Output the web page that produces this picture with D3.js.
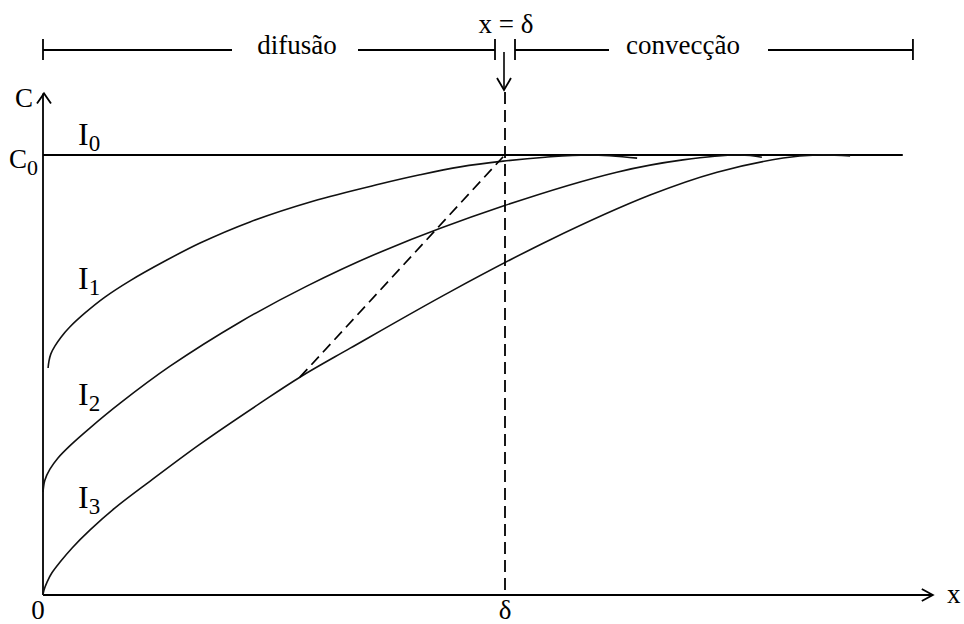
<!DOCTYPE html>
<html>
<head>
<meta charset="utf-8">
<script src="https://cdn.jsdelivr.net/npm/d3@7"></script>
<style>
  html, body { margin: 0; padding: 0; background: #fff; }
  svg { display: block; }
  text { font-family: "Liberation Serif", "Times New Roman", serif; fill: #000; }
</style>
</head>
<body>
<svg id="chart" width="964" height="624"></svg>
<script>
// Concentration profiles C(x) near the electrode for increasing current (I1 < I2 < I3).
// x is measured in units of the diffusion-layer thickness δ, C in units of C0.
const delta = 1;
const c0 = 1;
const xMax = 1.926;      // end of the x axis
const cMax = 1.14;       // top of the C axis
const c0LineEnd = 1.861; // where the bulk-concentration line stops
const bracketEnd = 1.883;

const seriesI1 = [
  [0.011, 0.516], [0.013, 0.532], [0.017, 0.548], [0.026, 0.566], [0.039, 0.586],
  [0.058, 0.609], [0.091, 0.641], [0.134, 0.677], [0.188, 0.714], [0.264, 0.759],
  [0.340, 0.800], [0.448, 0.848], [0.584, 0.895], [0.729, 0.934], [0.816, 0.955],
  [0.903, 0.973], [0.996, 0.986], [1.087, 0.995], [1.184, 1.000], [1.286, 0.993]
];
const seriesI2 = [
  [0.000, 0.234], [0.004, 0.261], [0.015, 0.286], [0.032, 0.311], [0.058, 0.339],
  [0.102, 0.380], [0.167, 0.436], [0.275, 0.520], [0.426, 0.620], [0.571, 0.702],
  [0.736, 0.782], [0.996, 0.884], [1.242, 0.961], [1.385, 0.989], [1.509, 1.000],
  [1.556, 0.995]
];
const seriesI3 = [
  [0.000, 0.000], [0.002, 0.011], [0.009, 0.030], [0.019, 0.050], [0.037, 0.075],
  [0.063, 0.107], [0.102, 0.148], [0.156, 0.198], [0.232, 0.259], [0.340, 0.343],
  [0.470, 0.436], [0.556, 0.495], [0.665, 0.561], [0.881, 0.689], [1.097, 0.807],
  [1.314, 0.909], [1.459, 0.961], [1.602, 0.993], [1.675, 1.000], [1.747, 0.998]
];
// dashed line joining the profiles
const tangentLine = [[0.556, 0.495], [0.996, 0.996]];

const curveLabels = ["I", "I", "I", "I"];
const curveSubs = ["0", "1", "2", "3"];
const regionLabels = ["difusão", "convecção"];
const boundaryLabel = "x = δ";
const axisLabels = { y: "C", x: "x", origin: "0", delta: "δ", c0: "C", c0Sub: "0" };

const svg = d3.select("#chart");
const x = d3.scaleLinear().domain([0, delta]).range([43, 505]);
const y = d3.scaleLinear().domain([0, c0]).range([595, 155]);

const ink = "#000";

// axes
svg.append("line").attr("x1", x(0)).attr("y1", y(0)).attr("x2", x(xMax)).attr("y2", y(0))
  .attr("stroke", ink).attr("stroke-width", 1.8);
svg.append("line").attr("x1", x(0)).attr("y1", y(0)).attr("x2", x(0)).attr("y2", y(cMax))
  .attr("stroke", ink).attr("stroke-width", 1.8);

function openHead(tx, ty, dir, len, half) {
  let p;
  if (dir === "right") p = [[tx - len, ty - half], [tx, ty], [tx - len, ty + half]];
  else if (dir === "up") p = [[tx - half, ty + len], [tx, ty], [tx + half, ty + len]];
  else p = [[tx - half, ty - len], [tx, ty], [tx + half, ty - len]];
  svg.append("path").attr("d", d3.line()(p)).attr("fill", "none")
    .attr("stroke", ink).attr("stroke-width", 1.8).attr("stroke-linejoin", "miter");
}
openHead(x(xMax), y(0), "right", 11, 6);
openHead(x(0) + 1, y(cMax), "up", 10, 7);

// bulk concentration line C0
svg.append("line").attr("x1", x(0)).attr("y1", y(c0)).attr("x2", x(c0LineEnd)).attr("y2", y(c0))
  .attr("stroke", ink).attr("stroke-width", 1.8);

// profiles
const line = d3.line().x(d => x(d[0])).y(d => y(d[1])).curve(d3.curveCatmullRom.alpha(0.5));
[seriesI1, seriesI2, seriesI3].forEach(s => {
  svg.append("path").attr("d", line(s)).attr("fill", "none")
    .attr("stroke", "#111").attr("stroke-width", 1.6);
});

// dashed guides
svg.append("line")
  .attr("x1", x(tangentLine[0][0])).attr("y1", y(tangentLine[0][1]))
  .attr("x2", x(tangentLine[1][0])).attr("y2", y(tangentLine[1][1]))
  .attr("stroke", ink).attr("stroke-width", 1.7).attr("stroke-dasharray", "11,6");
svg.append("line")
  .attr("x1", x(delta)).attr("y1", 92).attr("x2", x(delta)).attr("y2", y(0))
  .attr("stroke", ink).attr("stroke-width", 1.8).attr("stroke-dasharray", "12,6");

// arrow pointing at x = δ
svg.append("line").attr("x1", x(delta) - 1).attr("y1", 52).attr("x2", x(delta) - 1).attr("y2", 89)
  .attr("stroke", ink).attr("stroke-width", 1.6);
openHead(x(delta) - 1, 90, "down", 12, 7);

// region bracket
const by = 50;
const gap = 10;
const segs = [
  [x(0), 232], [358, x(delta) - gap], [x(delta) + gap, 609], [768, x(bracketEnd)]
];
segs.forEach(s => svg.append("line").attr("x1", s[0]).attr("y1", by).attr("x2", s[1]).attr("y2", by)
  .attr("stroke", ink).attr("stroke-width", 1.8));
[x(0), x(delta) - gap, x(delta) + gap, x(bracketEnd)].forEach(t =>
  svg.append("line").attr("x1", t).attr("y1", by - 11).attr("x2", t).attr("y2", by + 10)
    .attr("stroke", ink).attr("stroke-width", 1.8));

const fs = 27;
svg.append("text").attr("x", 297).attr("y", 54).attr("text-anchor", "middle")
  .attr("font-size", fs).text(regionLabels[0]);
svg.append("text").attr("x", 683).attr("y", 54).attr("text-anchor", "middle")
  .attr("font-size", fs).text(regionLabels[1]);
svg.append("text").attr("x", 506).attr("y", 33).attr("text-anchor", "middle")
  .attr("font-size", fs).text(boundaryLabel);

// axis labels
svg.append("text").attr("x", 15).attr("y", 107).attr("font-size", fs).text(axisLabels.y);
svg.append("text").attr("x", 947).attr("y", 603).attr("font-size", fs).text(axisLabels.x);
svg.append("text").attr("x", 38).attr("y", 619).attr("text-anchor", "middle")
  .attr("font-size", fs).text(axisLabels.origin);
svg.append("text").attr("x", x(delta)).attr("y", 619).attr("text-anchor", "middle")
  .attr("font-size", fs).text(axisLabels.delta);
const c0t = svg.append("text").attr("x", 9).attr("y", 168).attr("font-size", fs);
c0t.append("tspan").text(axisLabels.c0);
c0t.append("tspan").attr("dy", 7).attr("font-size", 22).text(axisLabels.c0Sub);

// curve labels
const labelBase = [145, 289, 405, 508];
curveLabels.forEach((lab, i) => {
  const t = svg.append("text").attr("x", 78).attr("y", labelBase[i]).attr("font-size", 32);
  t.append("tspan").text(lab);
  t.append("tspan").attr("dy", 6).attr("font-size", 23).text(curveSubs[i]);
});
</script>
</body>
</html>
